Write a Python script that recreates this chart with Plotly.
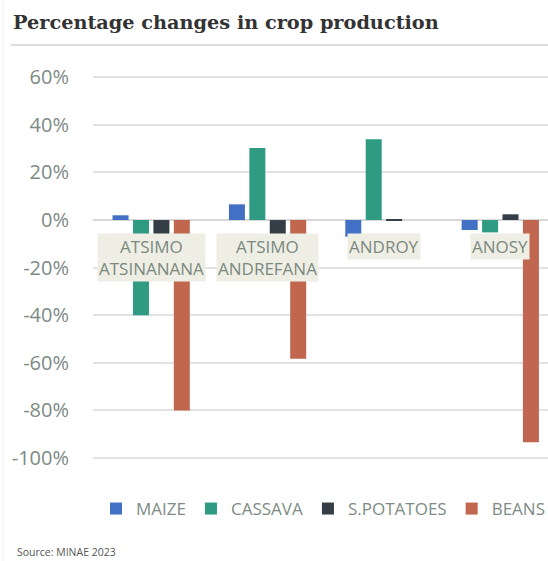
import plotly.graph_objects as go

regions = ["ATSIMO<br>ATSINANANA", "ATSIMO<br>ANDREFANA", "ANDROY", "ANOSY"]
series_names = ["MAIZE", "CASSAVA", "S.POTATOES", "BEANS"]
maize = [2, 6.6, -7, -4.2]
cassava = [-40, 30.3, 34, -5.2]
spotatoes = [-12, -12, 0.4, 2.4]
beans = [-80, -58.3, 0, -93.4]
tick_vals = [60, 40, 20, 0, -20, -40, -60, -80, -100]
tick_text = ["60%", "40%", "20%", "0%", "-20%", "-40%", "-60%", "-80%", "-100%"]
colors = ["#4170c4", "#2f9b82", "#343e46", "#c1674f"]

cats = list(range(len(regions)))
fig = go.Figure()
for name, vals, col in zip(series_names, [maize, cassava, spotatoes, beans], colors):
    fig.add_trace(go.Bar(x=cats, y=vals, name=name, marker_color=col, marker_line_width=0))

W, H = 548, 561
L, R, T, B = 93, 0, 63, 84
pw, ph = W - L - R, H - T - B

def px_x(p):
    return (p - L) / pw

def px_y(p):
    return (H - B - p) / ph

fig.update_layout(
    width=W, height=H,
    margin=dict(l=L, r=R, t=T, b=B, autoexpand=False),
    paper_bgcolor="white", plot_bgcolor="white",
    barmode="group", bargap=0.298, bargroupgap=0.216,
    font=dict(family="Open Sans", color="#7d8b84"),
    showlegend=True,
    legend=dict(orientation="h", xref="container", yref="container",
                x=96 / W, xanchor="left",
                y=1 - 509 / H, yanchor="middle",
                font=dict(family="Open Sans", size=17, color="#7d8b84"),
                traceorder="normal", itemwidth=30, bgcolor="rgba(0,0,0,0)"),
    xaxis=dict(range=[-0.5, 3.41], showticklabels=False, showgrid=False,
               zeroline=False, showline=False, ticks="", automargin=False),
    yaxis=dict(range=[-108, 66], tickvals=tick_vals, ticktext=tick_text,
               showgrid=True, gridcolor="#e2e2e2", gridwidth=1.5,
               zeroline=True, zerolinecolor="#d8d8d8", zerolinewidth=1.5,
               showline=False, ticks="", ticklabelstandoff=23, automargin=False,
               tickfont=dict(family="Open Sans", size=20, color="#7d8b84")),
)

for i, lab in enumerate(regions):
    fig.add_annotation(x=cats[i], y=-5.3, xref="x", yref="y", text=lab,
                       showarrow=False, yanchor="top", xanchor="center",
                       bgcolor="#efeee5", borderpad=1, align="center",
                       font=dict(family="Open Sans", size=17, color="#7a897f"))

fig.add_annotation(x=px_x(11), y=px_y(22), xref="paper", yref="paper",
                   text="<b>Percentage changes in crop production</b>",
                   showarrow=False, xanchor="left", yanchor="middle",
                   font=dict(family="DejaVu Serif", size=19.3, color="#333333"))

fig.add_shape(type="line", xref="paper", yref="paper",
              x0=px_x(11), x1=1, y0=px_y(45), y1=px_y(45),
              line=dict(color="#dddddd", width=2))
fig.add_shape(type="line", xref="paper", yref="paper",
              x0=px_x(3), x1=px_x(3), y0=px_y(0), y1=px_y(561),
              line=dict(color="#f0f0f0", width=1))

fig.add_annotation(x=px_x(15), y=px_y(552), xref="paper", yref="paper",
                   text="Source: MINAE 2023", showarrow=False,
                   xanchor="left", yanchor="middle",
                   font=dict(family="Open Sans", size=10.5, color="#555555"))

fig.write_html("out.html", config={"displayModeBar": False},
               post_script="document.body.style.margin='0px';")
